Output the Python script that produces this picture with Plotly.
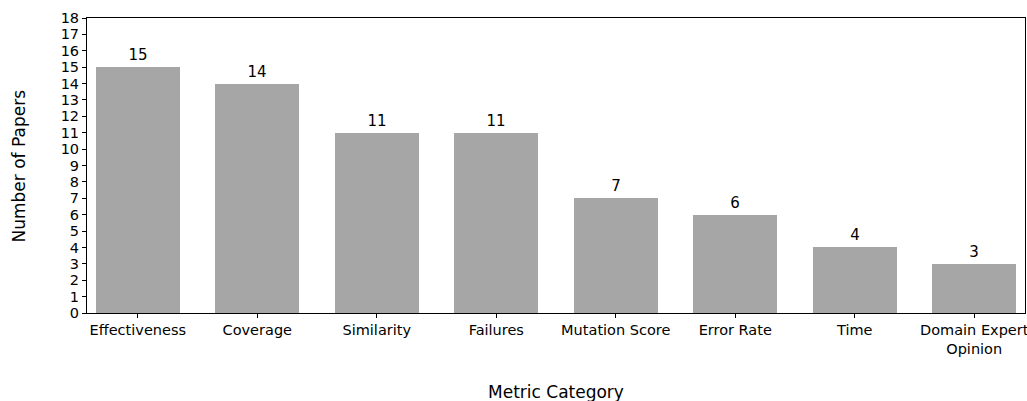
import plotly.graph_objects as go

categories = ["Effectiveness", "Coverage", "Similarity", "Failures", "Mutation Score",
              "Error Rate", "Time", "Domain Expert<br>Opinion"]
papers = [15, 14, 11, 11, 7, 6, 4, 3]
y_ticks = list(range(0, 19))

font = "DejaVu Sans"
fig = go.Figure(go.Bar(
    x=list(range(len(categories))), y=papers, width=0.7,
    marker=dict(color="#a6a6a6", line=dict(width=0)),
    text=[str(v) for v in papers], textposition="outside",
    textfont=dict(family=font, size=15, color="black"),
    cliponaxis=False,
))
fig.update_layout(
    width=1027, height=401,
    margin=dict(l=87, r=2, t=18, b=88),
    plot_bgcolor="white", paper_bgcolor="white",
    font=dict(family=font, size=14.5, color="black"),
    showlegend=False,
    bargap=0,
)
fig.update_xaxes(
    range=[-0.425, 7.425], tickvals=list(range(len(categories))), ticktext=categories,
    showline=True, linecolor="black", linewidth=1, mirror=True,
    ticks="outside", ticklen=4, tickcolor="black", showgrid=False, zeroline=False,
    tickfont=dict(family=font, size=14.5), ticklabeloverflow="allow",
    automargin=False,
)
fig.update_yaxes(
    range=[0, 18], tickvals=y_ticks,
    showline=True, linecolor="black", linewidth=1, mirror=True,
    ticks="outside", ticklen=4, tickcolor="black", showgrid=False, zeroline=False,
    tickfont=dict(family=font, size=14.5), automargin=False,
)
fig.add_annotation(text="Number of Papers", xref="paper", yref="paper", x=-0.0725, y=0.5,
                   textangle=-90, showarrow=False, font=dict(family=font, size=17),
                   xanchor="center", yanchor="middle")
fig.add_annotation(text="Metric Category", xref="paper", yref="paper", x=0.5, y=-0.268,
                   showarrow=False, font=dict(family=font, size=17),
                   xanchor="center", yanchor="middle")
fig.write_html("out.html", config={"displayModeBar": False},
               post_script="document.body.style.margin='0px';")
